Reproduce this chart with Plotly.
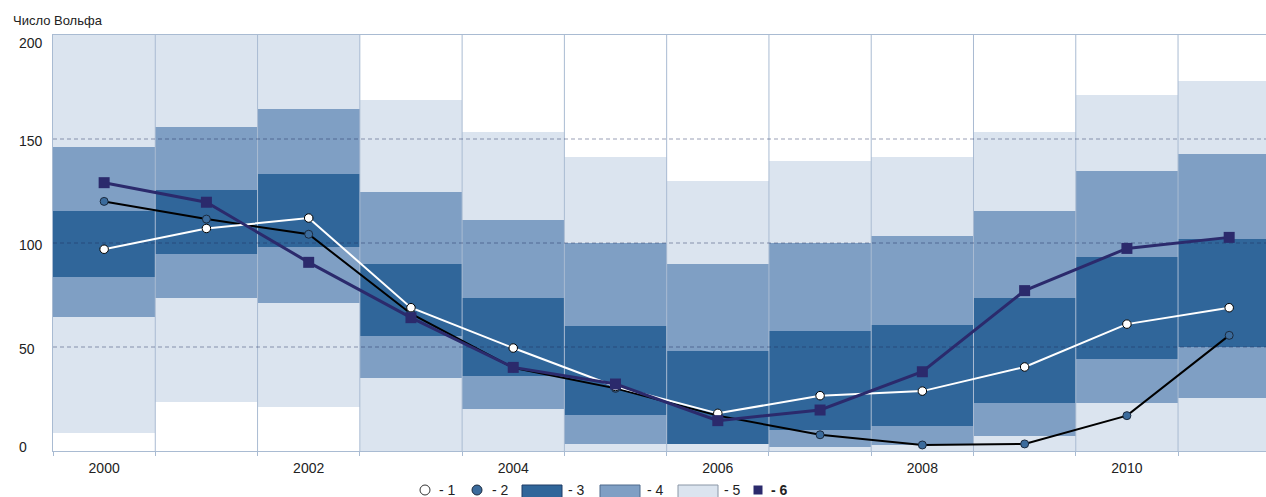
import plotly.graph_objects as go

# ---------------- data ----------------
years = [2000, 2001, 2002, 2003, 2004, 2005, 2006, 2007, 2008, 2009, 2010, 2011]

# band 5 (widest, light)
b5_lo = [8.7, 23.6, 21.3, 0, 0, 0, 0, 0, 0, 0, 0, 0]
b5_hi = [215, 215, 215, 168.8, 153.5, 141.5, 129.8, 139.4, 141.5, 153.5, 171.2, 177.9]
# band 4 (medium)
b4_lo = [64.3, 73.4, 71.0, 35.2, 20.2, 3.2, 3.2, 2.0, 2.9, 7.4, 22.9, 25.6]
b4_hi = [146.3, 156.0, 164.4, 124.4, 111.0, 100.2, 89.8, 100.2, 103.4, 115.4, 134.8, 142.6]
# band 3 (central, dark)
b3_lo = [83.8, 94.7, 98.2, 55.3, 35.9, 17.2, 3.2, 10.0, 12.2, 22.9, 44.4, 50.1]
b3_hi = [115.4, 125.6, 133.0, 89.8, 73.4, 60.1, 48.0, 57.7, 60.6, 73.4, 93.4, 101.9]

s1 = [97, 107, 112, 68.9, 49.5, 31, 18.1, 26.6, 28.8, 40.4, 61, 68.9]
s2 = [120, 111.5, 104.2, 66, 40, 30.1, 17, 7.8, 2.9, 3.4, 17, 55.6]
s6 = [129, 119.6, 90.7, 64.1, 40.2, 32.2, 14.6, 19.7, 38.1, 77.1, 97.4, 102.7]

y_ticks = [0, 50, 100, 150, 200]
x_tick_labels = [2000, 2002, 2004, 2006, 2008, 2010]
legend_labels = ["- 1", "- 2", "- 3", "- 4", "- 5", "<b>- 6</b>"]
y_title = "Число Вольфа"

# ---------------- styles ----------------
C5 = "#dbe4ef"
C4 = "#7f9fc4"
C3 = "#30669a"
NAVY = "#2b2a6c"
S2FILL = "#3b6b9c"
SEP = "#a9bbd2"
FONT = "Liberation Sans, Arial, sans-serif"

fig = go.Figure()

for lo, hi, col in [(b5_lo, b5_hi, C5), (b4_lo, b4_hi, C4), (b3_lo, b3_hi, C3)]:
    fig.add_trace(go.Bar(
        x=years, base=lo, y=[h - l for h, l in zip(hi, lo)],
        width=1, marker=dict(color=col, line=dict(width=0)),
        showlegend=False, hoverinfo="skip"))

# column separators
bounds = [y + 0.5 for y in years]
sx, sy = [], []
for b in bounds:
    sx += [b, b, None]
    sy += [0, 200, None]
fig.add_trace(go.Scatter(x=sx, y=sy, mode="lines", line=dict(color=SEP, width=1),
                         showlegend=False, hoverinfo="skip"))

# dashed horizontal grid
gx, gy = [], []
for t in y_ticks[1:-1]:
    gx += [years[0] - 0.5, years[-1] + 0.5, None]
    gy += [t, t, None]
fig.add_trace(go.Scatter(x=gx, y=gy, mode="lines",
                         line=dict(color="rgba(26,42,90,0.45)", width=1, dash="4px,3px"),
                         showlegend=False, hoverinfo="skip"))

# series
fig.add_trace(go.Scatter(x=years, y=s2, mode="lines+markers",
                         line=dict(color="black", width=2),
                         marker=dict(symbol="circle", size=8, color=S2FILL,
                                     line=dict(color="#1b2a3e", width=1)),
                         showlegend=False))
fig.add_trace(go.Scatter(x=years, y=s1, mode="lines+markers",
                         line=dict(color="white", width=2),
                         marker=dict(symbol="circle", size=8.5, color="white",
                                     line=dict(color="black", width=1)),
                         showlegend=False))
fig.add_trace(go.Scatter(x=years, y=s6, mode="lines+markers",
                         line=dict(color=NAVY, width=3),
                         marker=dict(symbol="square", size=11, color=NAVY,
                                     line=dict(width=0)),
                         showlegend=False))

# ---------------- layout ----------------
L, T, B = 53, 35, 46
W, H = 1266, 497
PW = W - L
PH = H - T - B


def px2x(px):
    return (px - L) / PW


def py2y(py):
    return (H - B - py) / PH


fig.update_layout(
    width=W, height=H,
    margin=dict(l=L, r=0, t=T, b=B),
    paper_bgcolor="white", plot_bgcolor="white",
    barmode="overlay", bargap=0,
    font=dict(family=FONT, size=14, color="#222"),
    xaxis=dict(range=[years[0] - 0.5, years[-1] + 0.36],
               tickvals=x_tick_labels, ticktext=[str(v) for v in x_tick_labels],
               ticks="", showgrid=False, zeroline=False,
               showline=True, linecolor=SEP, linewidth=1, mirror=True,
               tickfont=dict(size=14, color="#222"), ticklabelstandoff=4,
               minor=dict(tickvals=[years[0] - 0.5] + bounds, ticks="outside",
                          ticklen=4, tickcolor=SEP, showgrid=False)),
    yaxis=dict(range=[0, 200], showticklabels=False, ticks="", showgrid=False,
               zeroline=False, showline=True, linecolor=SEP, linewidth=1),
)

# y tick labels (left aligned)
for v in y_ticks:
    shift = 4 if v == y_ticks[0] else (-8 if v == y_ticks[-1] else -1.5)
    fig.add_annotation(x=px2x(17), xref="paper", y=v, yref="y", text=str(v),
                       showarrow=False, xanchor="left", yanchor="middle",
                       yshift=shift, font=dict(size=14, color="#222"))

fig.add_annotation(x=px2x(11), xref="paper", y=py2y(20), yref="paper",
                   text=y_title, showarrow=False, xanchor="left", yanchor="middle",
                   font=dict(size=13, color="#222"))

# custom legend
ly = py2y(490)
legend_items = [
    ("circle", 425, "white", "#333", 437),
    ("circle", 477, S2FILL, "#1b2a3e", 490),
    ("rect", (522, 562), C3, "#1f3d66", 566),
    ("rect", (600, 640), C4, "#4e6a8c", 645),
    ("rect", (678, 718), C5, "#8a96a6", 722),
    ("square", 758, NAVY, NAVY, 769),
]
for (kind, pos, fill, lc, tx), lab in zip(legend_items, legend_labels):
    if kind == "circle":
        fig.add_shape(type="circle", xref="paper", yref="paper",
                      xsizemode="pixel", ysizemode="pixel",
                      xanchor=px2x(pos), yanchor=ly, x0=-5, x1=5, y0=-5, y1=5,
                      fillcolor=fill, line=dict(color=lc, width=1))
    elif kind == "square":
        fig.add_shape(type="rect", xref="paper", yref="paper",
                      xsizemode="pixel", ysizemode="pixel",
                      xanchor=px2x(pos), yanchor=ly, x0=-4.5, x1=4.5, y0=-4.5, y1=4.5,
                      fillcolor=fill, line=dict(color=lc, width=0))
    else:
        fig.add_shape(type="rect", xref="paper", yref="paper",
                      x0=px2x(pos[0]), x1=px2x(pos[1]), y0=py2y(501), y1=py2y(485),
                      fillcolor=fill, line=dict(color=lc, width=1))
    fig.add_annotation(x=px2x(tx), xref="paper", y=ly, yref="paper", text=lab,
                       showarrow=False, xanchor="left", yanchor="middle",
                       font=dict(size=14, color="#222"))

fig.write_html(
    "out.html",
    config={"displayModeBar": False},
    post_script="document.body.style.margin='0';document.body.style.overflow='hidden';",
)
